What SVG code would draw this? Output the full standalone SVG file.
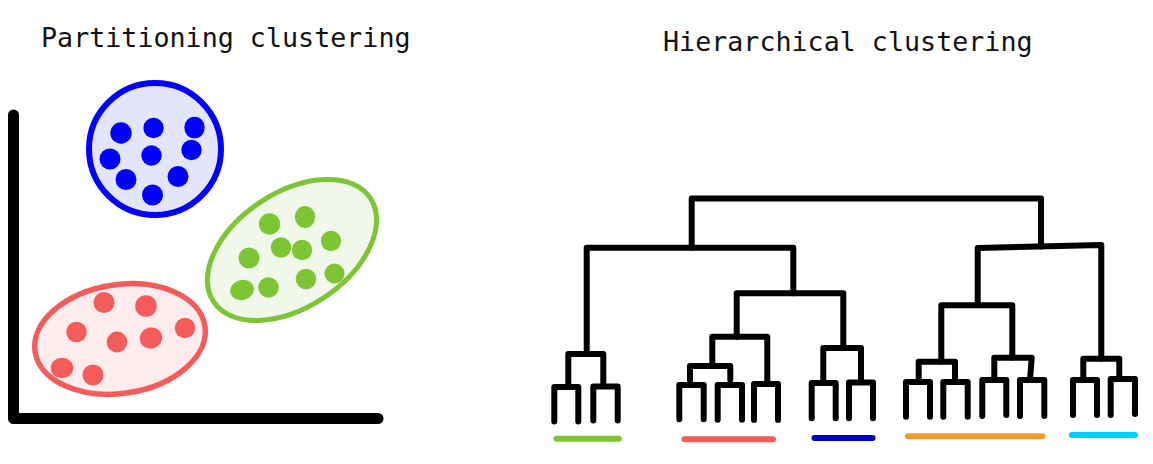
<svg xmlns="http://www.w3.org/2000/svg" width="1153" height="464" viewBox="0 0 1153 464">
<style>
.t{font-family:"DejaVu Sans Mono","Liberation Mono",monospace;font-size:26.7px;fill:#111}
.ax{fill:none;stroke:#000;stroke-width:11;stroke-linecap:round;stroke-linejoin:round}
.d{fill:none;stroke:#000;stroke-width:6;stroke-linecap:round;stroke-linejoin:round}
.b{fill:none;stroke-width:6;stroke-linecap:round}
.blue{fill:#0000ff}.green{fill:#7dc535}.red{fill:#f45b5b}
.ob{fill:#e3e5fb;stroke:#0000ff;stroke-width:6}
.og{fill:#f1f8ea;stroke:#7dc535;stroke-width:5}
.or{fill:#feecec;stroke:#f45b5b;stroke-width:5.500}
</style>
<rect width="1153" height="464" fill="#fff"/>
<text id="title-partitioning" class="t" x="41" y="47">Partitioning clustering</text>
<text id="title-hierarchical" class="t" x="663" y="51">Hierarchical clustering</text>
<path id="axes" class="ax" d="M13.500 115V418.500H378"/>
<g id="cluster-blue">
<circle class="ob" cx="155" cy="149" r="66"/>
<g class="blue"><circle cx="121" cy="133" r="10.700"/><circle cx="153.500" cy="128" r="10.200"/><ellipse cx="194.500" cy="127.500" rx="10.200" ry="10.800"/><circle cx="110" cy="159" r="10.500"/><circle cx="151.500" cy="155.500" r="10.200"/><circle cx="191.500" cy="150" r="10.200"/><circle cx="126" cy="179.500" r="10.500"/><circle cx="178" cy="176.500" r="10.500"/><circle cx="152.500" cy="195" r="10.500"/></g>
</g>
<g id="cluster-green">
<ellipse class="og" cx="292" cy="250" rx="94" ry="57.400" transform="rotate(-33.400 292 250)"/>
<g class="green"><circle cx="269.500" cy="224" r="10.700"/><ellipse cx="305" cy="217" rx="10.200" ry="10.900"/><circle cx="331" cy="241" r="10.200"/><circle cx="281" cy="247.500" r="10.200"/><circle cx="302" cy="250" r="10.200"/><circle cx="249" cy="258" r="10.500"/><circle cx="334.500" cy="273.500" r="10"/><circle cx="306" cy="279" r="10.300"/><circle cx="268.500" cy="287.500" r="10.300"/><ellipse cx="242" cy="290" rx="12" ry="10" transform="rotate(-15 242 290)"/></g>
</g>
<g id="cluster-red">
<ellipse class="or" cx="120" cy="339" rx="85.900" ry="54.400" transform="rotate(-8.500 120 339)"/>
<g class="red"><circle cx="104" cy="302.500" r="10.500"/><circle cx="146" cy="306" r="10.800"/><circle cx="76.500" cy="332" r="10.300"/><circle cx="117" cy="342" r="10.400"/><ellipse cx="151" cy="338" rx="11.300" ry="10.500" transform="rotate(-15 151 338)"/><circle cx="185" cy="328" r="10.200"/><ellipse cx="62" cy="368" rx="11.200" ry="10.200"/><circle cx="93" cy="375" r="10.500"/></g>
</g>
<g id="connectors" class="d">
<path d="M691.700 247.700V198.500H1041V246.500"/>
<path d="M586.700 354V247.700H793.300V293.300"/>
<path d="M568.300 386V354H603.300V386"/>
<path d="M554.300 421.500V387H578.300V421.500"/>
<path d="M593.300 420.500V386.500H617.700V420.500"/>
<path d="M736.700 336.700V293.300H843.300V348"/>
<path d="M690 384V366H730.300V380M712.300 366V336.700H767.300V384"/>
<path d="M679.300 419.300V385H703.700V419.300"/>
<path d="M717.700 419.700V385H742V419.700"/>
<path d="M754 420V384H778V420"/>
<path d="M823.300 383V348H861V382"/>
<path d="M811.700 418.300V383H835.700V418.300"/>
<path d="M849 418.300V382.500H873V418.300"/>
<path d="M941.300 361.700V305.300H1012.300V357.700"/>
<path d="M977.700 305.300V248L1101.300 245V358.700"/>
<path d="M918.700 382V361.700H955V382"/>
<path d="M906 416.700V382H930V416.700"/>
<path d="M943.300 416.700V382H967.700V416.700"/>
<path d="M994.300 380V357.700H1031.700L1030 380"/>
<path d="M982.300 416V380H1006.300V415"/>
<path d="M1020 416V380H1044.300V416"/>
<path d="M1083.300 380V358.700H1119.300V379"/>
<path d="M1073 415V380H1097V415"/>
<path d="M1110.700 415V379H1135V414"/>
</g>
<g id="legend-bars">
<path class="b" stroke="#7dc535" d="M556.500 438.700H619"/>
<path class="b" stroke="#f45b5b" d="M684.500 439.300H773"/>
<path class="b" stroke="#0000cc" d="M814.500 438H872.500"/>
<path class="b" stroke="#f39c2c" d="M908 436.300H1042.500"/>
<path class="b" stroke="#00ccff" d="M1072 435H1135"/>
</g>
</svg>
